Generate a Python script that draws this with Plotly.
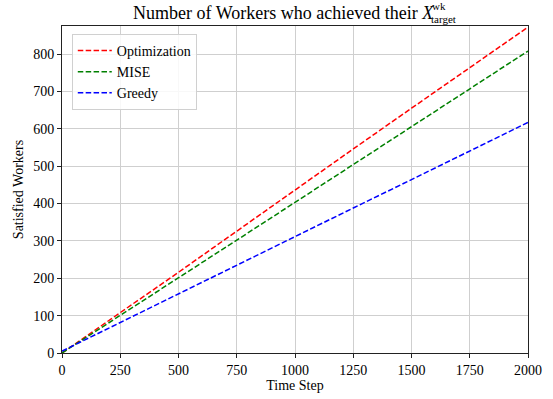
import plotly.graph_objects as go

# Time steps sampled every 250 steps
time_steps = [0, 250, 500, 750, 1000, 1250, 1500, 1750, 2000]

# Cumulative number of satisfied workers per strategy
optimization = [0, 107, 216, 326, 437, 546, 655, 764, 872]
mise = [0, 100, 201, 302, 403, 504, 605, 706, 808]
greedy = [5, 82, 159, 236, 311, 388, 464, 540, 617]

x_ticks = [0, 250, 500, 750, 1000, 1250, 1500, 1750, 2000]
y_ticks = [0, 100, 200, 300, 400, 500, 600, 700, 800]

FONT = "Liberation Serif"
DASH = "5.5px,2.4px"

fig = go.Figure()
for name, values, color in [
    ("Optimization", optimization, "#ff0000"),
    ("MISE", mise, "#008000"),
    ("Greedy", greedy, "#0000ff"),
]:
    fig.add_trace(go.Scatter(
        x=time_steps, y=values, mode="lines", name=name,
        line=dict(color=color, width=1.5, dash=DASH),
    ))

axis_common = dict(
    showline=True, linecolor="#222222", linewidth=1, mirror=True,
    ticks="outside", ticklen=4, tickcolor="#222222", tickwidth=1,
    showgrid=True, gridcolor="#cfcfcf", gridwidth=1,
    zeroline=False, automargin=False,
    tickfont=dict(family=FONT, size=14, color="black"),
)

fig.update_layout(
    width=553, height=399,
    margin=dict(l=62, r=25, t=26, b=46),
    paper_bgcolor="white", plot_bgcolor="white",
    font=dict(family=FONT, color="black"),
    showlegend=True,
    legend=dict(
        x=0.021, y=0.976, xanchor="left", yanchor="top",
        bgcolor="rgba(255,255,255,0.85)", bordercolor="#d0d0d0", borderwidth=1,
        font=dict(family=FONT, size=14, color="black"),
        tracegroupgap=0, itemwidth=34,
    ),
    xaxis=dict(range=[0, 2000], tickvals=x_ticks,
               title=dict(text="Time Step", font=dict(family=FONT, size=14), standoff=1),
               **axis_common),
    yaxis=dict(range=[0, 875], tickvals=y_ticks,
               title=dict(text="Satisfied Workers", font=dict(family=FONT, size=14), standoff=6),
               **axis_common),
)

# Title: main text ends with an italic X, followed by a stacked super/subscript
title_x = (436 - 62) / 466
script_x = (430 - 62) / 466
fig.add_annotation(
    xref="paper", yref="paper", x=title_x, y=1.0, xanchor="right", yanchor="bottom",
    yshift=1,
    text="Number of Workers who achieved their <i>X</i>",
    showarrow=False, font=dict(family=FONT, size=18, color="black"),
)
fig.add_annotation(
    xref="paper", yref="paper", x=script_x, y=1.0, xanchor="left", yanchor="bottom",
    xshift=0, yshift=12,
    text="wk", showarrow=False, font=dict(family=FONT, size=11, color="black"),
)
fig.add_annotation(
    xref="paper", yref="paper", x=script_x, y=1.0, xanchor="left", yanchor="bottom",
    xshift=-1, yshift=-1,
    text="target", showarrow=False, font=dict(family=FONT, size=11, color="black"),
)

fig.write_html("out.html")
